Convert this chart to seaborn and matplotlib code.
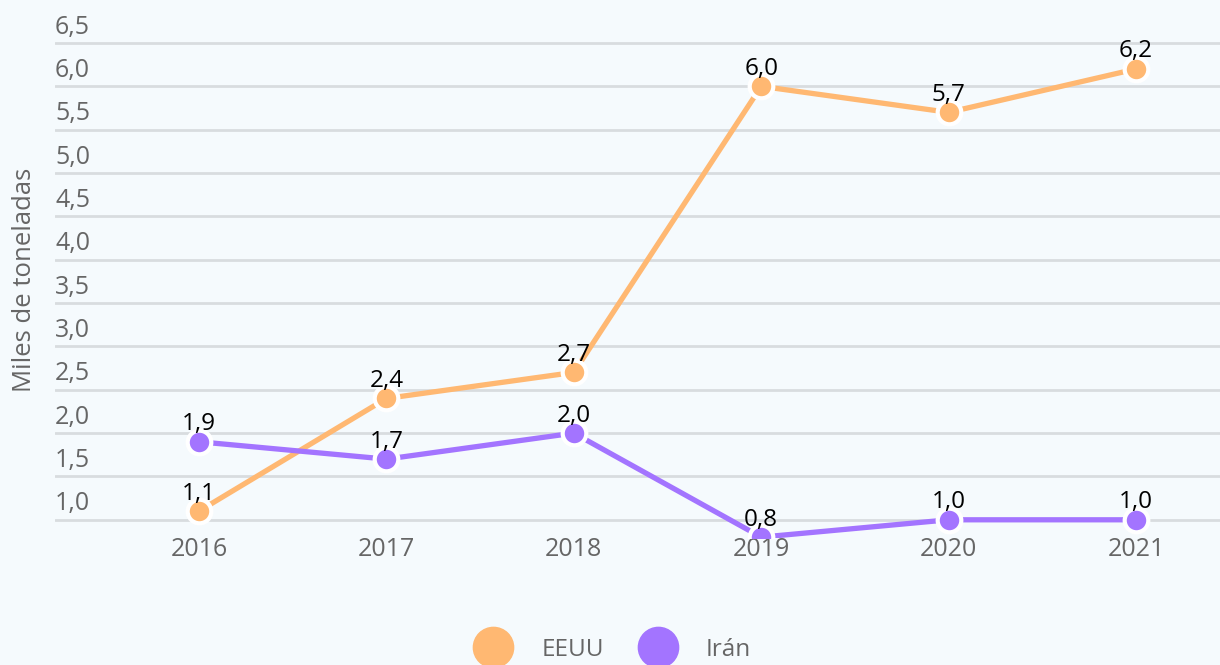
import matplotlib
matplotlib.use("Agg")
import matplotlib.pyplot as plt
import matplotlib.transforms as mtransforms
from matplotlib.lines import Line2D
import seaborn as sns
import pandas as pd

years = ["2016", "2017", "2018", "2019", "2020", "2021"]
eeuu = [1.1, 2.4, 2.7, 6.0, 5.7, 6.2]
iran = [1.9, 1.7, 2.0, 0.8, 1.0, 1.0]
series_names = ["EEUU", "Irán"]
y_ticks = [1.0, 1.5, 2.0, 2.5, 3.0, 3.5, 4.0, 4.5, 5.0, 5.5, 6.0, 6.5]
y_label = "Miles de toneladas"

colors = {"EEUU": "#ffb872", "Irán": "#a374ff"}
bg = "#f5fafd"
grid_c = "#d8dcdf"
text_c = "#666666"

sns.set_theme(style="white")
plt.rcParams["font.family"] = ["Open Sans", "DejaVu Sans"]

rows = []
for name, vals in zip(series_names, [eeuu, iran]):
    for i, (yr, v) in enumerate(zip(years, vals)):
        rows.append({"idx": i, "year": yr, "value": v, "serie": name})
df = pd.DataFrame(rows)

fig = plt.figure(figsize=(12.2, 6.65), dpi=100, facecolor=bg)
ax = fig.add_axes([55 / 1220, 1 - 538 / 665, 1 - 55 / 1220, (538 - 30) / 665])
ax.set_facecolor(bg)

sns.lineplot(data=df, x="idx", y="value", hue="serie", palette=colors,
             linewidth=3.8, marker="o", markersize=17, markeredgecolor="white",
             markeredgewidth=3, legend=False, ax=ax, zorder=3)

# gridlines
for t in y_ticks:
    ax.axhline(t, color=grid_c, linewidth=2, zorder=1)

y_lo, y_hi = 0.79, 6.5 + 13 / 86.7
ax.set_ylim(y_lo, y_hi)
x_scale = 187.4
ax.set_xlim((55 - 199) / x_scale, (1220 - 199) / x_scale)

for s in ax.spines.values():
    s.set_visible(False)

ax.set_yticks([])
trans = mtransforms.blended_transform_factory(ax.transAxes, ax.transData)
for t in y_ticks:
    ax.text(0.0, t + 0.04, f"{t:.1f}".replace(".", ","), transform=trans,
            ha="left", va="bottom", fontsize=18, color=text_c)

ax.set_xticks(range(len(years)))
ax.set_xticklabels(years, fontsize=18, color=text_c)
ax.tick_params(axis="x", length=0, pad=-1)
ax.set_xlabel("")
ax.set_ylabel("")
fig.text(25 / 1220, 1 - 280 / 665, y_label, rotation=90, ha="center", va="center",
         fontsize=18.5, color=text_c)

# data labels
for name, vals in zip(series_names, [eeuu, iran]):
    for i, v in enumerate(vals):
        ax.annotate(f"{v:.1f}".replace(".", ","), (i, v), xytext=(0, 4),
                    textcoords="offset points", ha="center", va="bottom",
                    fontsize=17.5, color="black", zorder=5, annotation_clip=False)

handles = [Line2D([], [], linestyle="none", marker="o", markersize=29,
                  markerfacecolor=colors[n], markeredgecolor=colors[n]) for n in series_names]
fig.legend(handles, series_names, loc="center", bbox_to_anchor=(0.5, 1 - 650 / 665),
           ncol=2, frameon=False, fontsize=17.5, labelcolor=text_c,
           handletextpad=1.0, columnspacing=1.2)

fig.savefig("out.png", dpi=100, facecolor=bg)
